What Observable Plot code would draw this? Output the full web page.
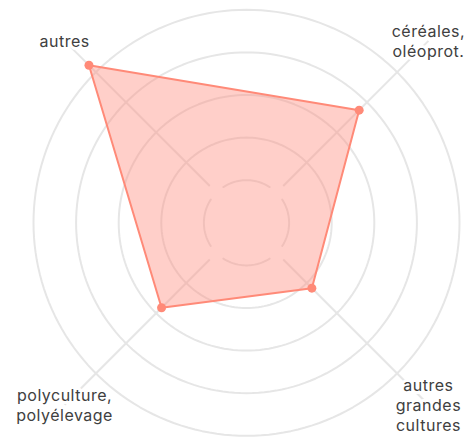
<!DOCTYPE html>
<html>
<head>
<meta charset="utf-8">
<script src="https://cdn.jsdelivr.net/npm/d3@7"></script>
<script src="https://cdn.jsdelivr.net/npm/@observablehq/plot@0.6"></script>
<style>
  html, body { margin: 0; padding: 0; background: #fff; }
  #chart svg { display: block; }
  #chart svg text { letter-spacing: 0.5px; }
</style>
</head>
<body>
<div id="chart"></div>
<script>
// Data
const categories = ["autres", "céréales, oléoprot.", "autres grandes cultures", "polyculture, polyélevage"];
const labels = ["autres", "céréales,\noléoprot.", "autres\ngrandes\ncultures", "polyculture,\npolyélevage"];
const angles = [-45, 45, 135, 225]; // degrees, clockwise from top
const values = [52.3, 37.4, 21.7, 28.2];
const rings = [10, 20, 30, 40, 50];

const rad = (a) => a * Math.PI / 180;
const px = (v, a) => v * Math.sin(rad(a));
const py = (v, a) => v * Math.cos(rad(a));

const data = categories.map((c, i) => ({category: c, label: labels[i], angle: angles[i], value: values[i]}));

// grid geometry
const outerRings = rings.slice(1);
const ringPts = outerRings.flatMap(r => d3.range(0, 361, 2).map(a => ({ring: r, a})));
const innerArcs = [0, 90, 180, 270].flatMap(c => d3.range(c - 33, c + 33.1, 2).map(a => ({ring: "inner" + c, r: rings[0], a})));
const spokeInner = 12.2;
const labelR = 60.4;

const chart = Plot.plot({
  width: 475,
  height: 439,
  x: {domain: [-50, 50], range: [33, 459], axis: null},
  y: {domain: [-50, 50], range: [435.3, 9.3], axis: null},
  style: {fontFamily: "Inter, sans-serif", background: "#fff"},
  marks: [
    Plot.line(ringPts, {x: d => px(d.ring, d.a), y: d => py(d.ring, d.a), z: "ring", stroke: "#e6e6e6", strokeWidth: 2}),
    Plot.line(innerArcs, {x: d => px(d.r, d.a), y: d => py(d.r, d.a), z: "ring", stroke: "#e6e6e6", strokeWidth: 2}),
    Plot.link(data, {
      x1: d => px(spokeInner, d.angle), y1: d => py(spokeInner, d.angle),
      x2: d => px(labelR, d.angle), y2: d => py(labelR, d.angle),
      stroke: "#e6e6e6", strokeWidth: 2
    }),
    Plot.line(data, {
      x: d => px(d.value, d.angle), y: d => py(d.value, d.angle),
      curve: "linear-closed", fill: "#ff8d7e", fillOpacity: 0.42,
      stroke: "#ff8a78", strokeWidth: 2
    }),
    Plot.dot(data, {x: d => px(d.value, d.angle), y: d => py(d.value, d.angle), r: 4.5, fill: "#ff8a78"}),
    Plot.text(data, {
      x: d => px(labelR, d.angle), y: d => py(labelR, d.angle),
      text: "label", fontSize: 16, lineHeight: 1.23, fill: "#404040",
      stroke: "white", strokeWidth: 6, textAnchor: "middle", lineAnchor: "middle"
    })
  ]
});
document.getElementById("chart").appendChild(chart);
</script>
</body>
</html>
